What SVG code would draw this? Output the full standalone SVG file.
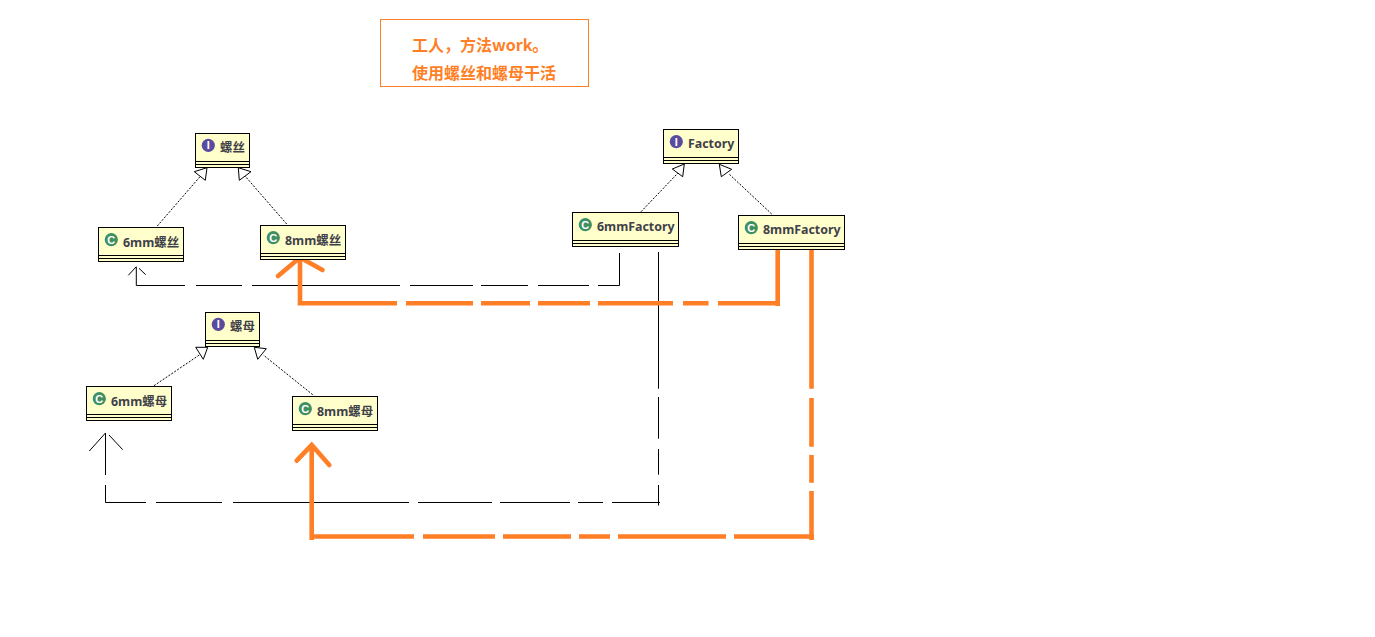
<svg xmlns="http://www.w3.org/2000/svg" width="1375" height="637" viewBox="0 0 1375 637">
<style>
.box{fill:#ffffcc;stroke:#000;stroke-width:1}
.sep{fill:none;stroke:#000;stroke-width:1}
.lbl{font-family:"Noto Sans","Noto Sans CJK SC",sans-serif;font-size:12.4px;font-weight:700;fill:#3f3f4a}
.ico{font-family:"Liberation Sans",sans-serif;font-size:11px;font-weight:700;fill:#fff;text-anchor:middle}
.i{fill:#5b4b9f}
.c{fill:#3f8f63}
.note{font-family:"Noto Sans CJK SC",sans-serif;font-size:16px;font-weight:700;fill:#ff7f27}
.dot{fill:none;stroke:#000;stroke-width:1;stroke-dasharray:2 1.5}
.tri{fill:#fff;stroke:#000;stroke-width:1}
.blk{fill:none;stroke:#000;stroke-width:1}
.org{fill:none;stroke:#ff7f27;stroke-width:4.6}
</style>
<rect width="1375" height="637" fill="#fff"/>
<g id="connectors">
<path class="dot" d="M157.3 226L200 176.7M286.7 224L245 176M154 385.7L199.3 355M312.7 394.7L263.3 355M641 211.7L678.3 172.7M771.7 214L728.3 173.3"/>
<path class="tri" d="M194.3 171.7L207 167.7L205.3 180.3ZM238.3 167.7L251 171.7L239.3 180.3ZM195.7 347.3L207.7 347.3L203.3 359.3ZM254.3 347.3L266.3 348.7L257.7 359.3ZM672.3 169L684.3 164L682.7 176.7ZM719.3 164.3L731.7 169.3L721.3 176.7Z"/>
<path class="blk" d="M619.5 253V285.5H598M589 285.5H538M528 285.5H481M473 285.5H410M400 285.5H252M242 285.5H196M185 285.5H136.3V267M128.3 275.3L136.3 266.7M139 268.3L145.7 274.7"/>
<path class="blk" d="M658.5 252V388.7M658.5 397V438.7M658.5 449V474.7M658.5 485V505.5M660 502.5H612M603 502.5H578M570 502.5H500M492 502.5H418M409 502.5H233M222 502.5H156M146 502.5H105.5V485M105.5 475V433M89.3 451L105.5 433M109 435L122.7 449.7"/>
<path class="org" d="M777.7 248V306M780 303.3H718M708.5 303.3H683M673 303.3H598M590 303.3H538M530 303.3H481M473 303.3H406M397 303.3H300V258"/>
<path class="org" stroke-linecap="round" d="M278 276L300 257.5L322.5 270"/>
<path class="org" d="M811.5 249V388.7M811.5 398V446.7M811.5 455V482.7M811.5 491V540M814 536.5H734M726 536.5H618M610 536.5H579M571 536.5H503M495 536.5H423M414 536.5H311.7V540M311.7 540V445"/>
<path class="org" stroke-linecap="round" d="M296.7 460.7L311.7 445L329.3 465"/>
</g>
<g id="note">
<rect x="380.5" y="19.5" width="208" height="67" fill="#fff" stroke="#ff7f27"/>
<text class="note" x="412" y="51">工人，方法work。</text>
<text class="note" x="412" y="79">使用螺丝和螺母干活</text>
</g>
<g id="iface-screw">
<rect class="box" x="195.5" y="133.5" width="54" height="34"/>
<path class="sep" d="M195.5 161.5H249.5M195.5 164.5H249.5"/>
<circle class="i" cx="208.3" cy="145.3" r="6.6"/><text class="ico" x="208.3" y="149.2">I</text>
<text class="lbl" x="220" y="151.5">螺丝</text>
</g>
<g id="screw-6mm">
<rect class="box" x="98.5" y="227.5" width="85" height="34"/>
<path class="sep" d="M98.5 255.5H183.5M98.5 258.5H183.5"/>
<circle class="c" cx="111.3" cy="239.7" r="6.6"/><text class="ico" x="111.3" y="243.6">C</text>
<text class="lbl" x="123" y="246.5">6mm螺丝</text>
</g>
<g id="screw-8mm">
<rect class="box" x="260.5" y="225.5" width="85" height="34"/>
<path class="sep" d="M260.5 253.5H345.5M260.5 256.5H345.5"/>
<circle class="c" cx="273.3" cy="237.7" r="6.6"/><text class="ico" x="273.3" y="241.6">C</text>
<text class="lbl" x="285" y="244.5">8mm螺丝</text>
</g>
<g id="iface-nut">
<rect class="box" x="205.5" y="312.5" width="54" height="34"/>
<path class="sep" d="M205.5 340.5H259.5M205.5 343.5H259.5"/>
<circle class="i" cx="218.3" cy="324.3" r="6.6"/><text class="ico" x="218.3" y="328.2">I</text>
<text class="lbl" x="230" y="331">螺母</text>
</g>
<g id="nut-6mm">
<rect class="box" x="86.5" y="386.5" width="85" height="34"/>
<path class="sep" d="M86.5 414.5H171.5M86.5 417.5H171.5"/>
<circle class="c" cx="99.3" cy="398.7" r="6.6"/><text class="ico" x="99.3" y="402.6">C</text>
<text class="lbl" x="111" y="405.5">6mm螺母</text>
</g>
<g id="nut-8mm">
<rect class="box" x="292.5" y="396.5" width="85" height="34"/>
<path class="sep" d="M292.5 424.5H377.5M292.5 427.5H377.5"/>
<circle class="c" cx="305.3" cy="408.7" r="6.6"/><text class="ico" x="305.3" y="412.6">C</text>
<text class="lbl" x="317" y="415.5">8mm螺母</text>
</g>
<g id="iface-factory">
<rect class="box" x="663.5" y="129.5" width="75" height="34"/>
<path class="sep" d="M663.5 157.5H738.5M663.5 160.5H738.5"/>
<circle class="i" cx="676.3" cy="141.7" r="6.6"/><text class="ico" x="676.3" y="145.6">I</text>
<text class="lbl" x="688" y="148">Factory</text>
</g>
<g id="factory-6mm">
<rect class="box" x="572.5" y="212.5" width="106" height="34"/>
<path class="sep" d="M572.5 240.5H678.5M572.5 243.5H678.5"/>
<circle class="c" cx="585.3" cy="224.7" r="6.6"/><text class="ico" x="585.3" y="228.6">C</text>
<text class="lbl" x="597" y="231">6mmFactory</text>
</g>
<g id="factory-8mm">
<rect class="box" x="738.5" y="215.5" width="106" height="34"/>
<path class="sep" d="M738.5 243.5H844.5M738.5 246.5H844.5"/>
<circle class="c" cx="751.3" cy="227.7" r="6.6"/><text class="ico" x="751.3" y="231.6">C</text>
<text class="lbl" x="763" y="234">8mmFactory</text>
</g>
</svg>
